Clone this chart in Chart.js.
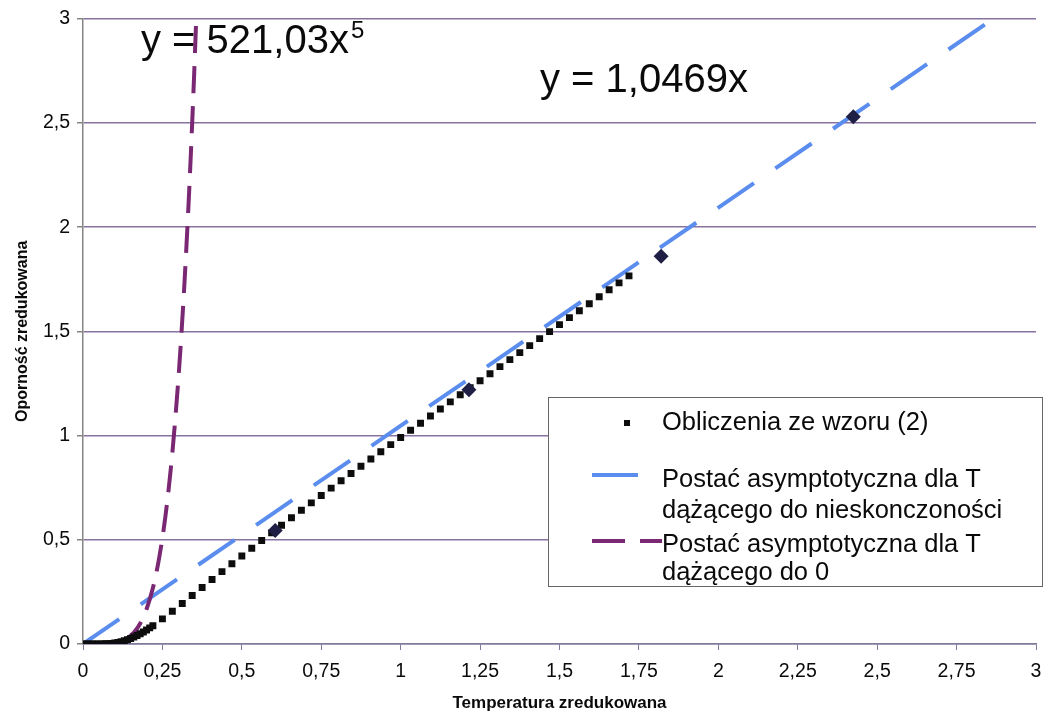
<!DOCTYPE html>
<html>
<head>
<meta charset="utf-8">
<script src="https://cdn.jsdelivr.net/npm/chart.js@4.4.0/dist/chart.umd.min.js"></script>
<style>
  html, body { margin: 0; padding: 0; background: #fff; }
  #wrap { width: 1053px; height: 715px; }
</style>
</head>
<body>
<div id="wrap"><canvas id="chart" width="1053" height="715"></canvas></div>
<script>
// Obliczenia ze wzoru (2) - punkty
const calcX = [0, 0.01, 0.02, 0.03, 0.04, 0.05, 0.06, 0.07, 0.08, 0.09, 0.10, 0.11,
  0.12, 0.13, 0.14, 0.15, 0.16, 0.17, 0.18, 0.19, 0.20, 0.21, 0.22,
  0.25, 0.28125, 0.3125, 0.34375, 0.375, 0.40625, 0.4375, 0.46875, 0.5, 0.53125,
  0.5625, 0.59375, 0.625, 0.65625, 0.6875, 0.71875, 0.75, 0.78125, 0.8125, 0.84375,
  0.875, 0.90625, 0.9375, 0.96875, 1.0, 1.03125, 1.0625, 1.09375, 1.125, 1.15625,
  1.1875, 1.21875, 1.25, 1.28125, 1.3125, 1.34375, 1.375, 1.40625, 1.4375, 1.46875,
  1.5, 1.53125, 1.5625, 1.59375, 1.625, 1.65625, 1.6875, 1.71875];
const calcY = [0, 0, 0, 0.00001, 0.00005, 0.00016, 0.0004, 0.0009, 0.0017, 0.003, 0.0049, 0.0075,
  0.0109, 0.0152, 0.0204, 0.0264, 0.0332, 0.0408, 0.049, 0.0579, 0.0674, 0.0773, 0.0877,
  0.1206, 0.157, 0.1947, 0.2328, 0.2711, 0.3094, 0.3474, 0.3851, 0.4226, 0.4597,
  0.4966, 0.5332, 0.5695, 0.6056, 0.6414, 0.6771, 0.7125, 0.7478, 0.7829, 0.8179,
  0.8527, 0.8874, 0.922, 0.9565, 0.9909, 1.0251, 1.0594, 1.0935, 1.1276, 1.1616,
  1.1955, 1.2294, 1.2632, 1.297, 1.3307, 1.3644, 1.398, 1.4316, 1.4652, 1.4987,
  1.5322, 1.5657, 1.5991, 1.6326, 1.6659, 1.6993, 1.7326, 1.766];

// wieksze znaczniki (romby)
const markX = [0.605, 1.215, 1.82, 2.425];
const markY = [0.545, 1.22, 1.86, 2.53];

// Postac asymptotyczna dla T -> nieskonczonosc: y = 1,0469x
const highX = [0, 3];
const highY = [0, 3.1407];

// Postac asymptotyczna dla T -> 0: y = 521,03x^5
const lowX = [0, 0.04, 0.08, 0.1, 0.12, 0.14, 0.16, 0.18, 0.2, 0.22, 0.24, 0.26, 0.28,
  0.3, 0.31, 0.32, 0.33, 0.34, 0.35, 0.36];
const lowY = [0, 0.00005, 0.0017, 0.0052, 0.013, 0.028, 0.0546, 0.0985, 0.1667, 0.2685,
  0.4149, 0.619, 0.8967, 1.2661, 1.4917, 1.7483, 2.039, 2.3673, 2.7366, 3.1505];

const xTickLabels = ['0', '0,25', '0,5', '0,75', '1', '1,25', '1,5', '1,75', '2', '2,25', '2,5', '2,75', '3'];
const yTickLabels = ['0', '0,5', '1', '1,5', '2', '2,5', '3'];

const legendLabels = [
  ['Obliczenia ze wzoru (2)'],
  ['Postać asymptotyczna dla T', 'dążącego do nieskonczoności'],
  ['Postać asymptotyczna dla T', 'dążącego do 0']
];

const FONT = '"Liberation Sans", Arial, sans-serif';
const gridColor = '#86739f';
const axisColor = '#7f7a98';

function pts(xs, ys) {
  return xs.map((x, i) => ({ x: x, y: ys[i] }));
}

// rownania na wykresie + legenda w ramce
const annotations = {
  id: 'annotations',
  afterDraw(chart) {
    const ctx = chart.ctx;
    ctx.save();
    ctx.fillStyle = '#0a0a0a';
    ctx.textBaseline = 'alphabetic';
    ctx.textAlign = 'left';

    ctx.font = '40px ' + FONT;
    ctx.fillText('y = 521,03x', 141, 53);
    const w = ctx.measureText('y = 521,03x').width;
    ctx.font = '24px ' + FONT;
    ctx.fillText('5', 141 + w + 2, 38);

    ctx.font = '40px ' + FONT;
    ctx.fillText('y = 1,0469x', 540, 92);

    // legenda
    ctx.fillStyle = '#fff';
    ctx.fillRect(548, 397, 494, 189);
    ctx.strokeStyle = '#666';
    ctx.lineWidth = 1;
    ctx.strokeRect(548.5, 397.5, 494, 189);

    const ds = chart.data.datasets;
    ctx.fillStyle = ds[1].pointBackgroundColor;
    ctx.fillRect(624, 420, 6, 6);

    ctx.lineCap = 'butt';
    ctx.lineWidth = 4;
    ctx.strokeStyle = ds[3].borderColor;
    ctx.setLineDash([]);
    ctx.beginPath();
    ctx.moveTo(592, 475);
    ctx.lineTo(638, 475);
    ctx.stroke();

    ctx.strokeStyle = ds[2].borderColor;
    ctx.setLineDash([33, 15]);
    ctx.beginPath();
    ctx.moveTo(592, 541);
    ctx.lineTo(662, 541);
    ctx.stroke();
    ctx.setLineDash([]);

    ctx.fillStyle = '#0a0a0a';
    ctx.font = '25.5px ' + FONT;
    const baselines = [[430], [487, 518], [552, 580]];
    legendLabels.forEach((lines, i) => {
      lines.forEach((t, j) => ctx.fillText(t, 662, baselines[i][j]));
    });
    ctx.restore();
  }
};

const ctx = document.getElementById('chart').getContext('2d');
new Chart(ctx, {
  type: 'scatter',
  data: {
    datasets: [
      {
        label: 'romby',
        data: pts(markX, markY),
        pointStyle: 'rectRot',
        pointRadius: 7.5,
        pointBackgroundColor: '#1f1f45',
        pointBorderWidth: 0
      },
      {
        label: legendLabels[0].join(' '),
        data: pts(calcX, calcY),
        pointStyle: 'rect',
        pointRadius: 4.9,
        pointBackgroundColor: '#0d0d0d',
        pointBorderWidth: 0
      },
      {
        label: legendLabels[2].join(' '),
        data: pts(lowX, lowY),
        showLine: true,
        pointRadius: 0,
        borderColor: '#7a2873',
        borderWidth: 4,
        borderDash: [27, 13],
        cubicInterpolationMode: 'monotone',
        fill: false
      },
      {
        label: legendLabels[1].join(' '),
        data: pts(highX, highY),
        showLine: true,
        pointRadius: 0,
        borderColor: '#5b8def',
        borderWidth: 4,
        borderDash: [44, 26],
        fill: false
      }
    ]
  },
  options: {
    responsive: false,
    animation: false,
    events: [],
    layout: { padding: { top: 17, right: 17, left: 0, bottom: 0 } },
    plugins: {
      legend: { display: false },
      tooltip: { enabled: false }
    },
    scales: {
      x: {
        type: 'linear',
        min: 0,
        max: 3,
        afterFit: (scale) => { scale.height = 71; },
        border: { color: axisColor, width: 1.5 },
        grid: { drawOnChartArea: false, drawTicks: true, tickLength: 6, tickColor: axisColor },
        ticks: {
          stepSize: 0.25,
          padding: 10,
          maxRotation: 0,
          autoSkip: false,
          color: '#0a0a0a',
          font: { family: FONT, size: 19.5 },
          callback: (v, i) => xTickLabels[i]
        },
        title: {
          display: true,
          text: 'Temperatura zredukowana',
          color: '#0a0a0a',
          font: { family: FONT, size: 17, weight: 'bold' },
          padding: { top: 0, bottom: 1 }
        }
      },
      y: {
        type: 'linear',
        min: 0,
        max: 3,
        afterFit: (scale) => { scale.width = 83; },
        border: { color: '#858585', width: 1.5 },
        grid: { color: gridColor, lineWidth: 1.5, tickLength: 6, tickColor: '#858585' },
        ticks: {
          stepSize: 0.5,
          padding: 7,
          color: '#0a0a0a',
          font: { family: FONT, size: 19.5 },
          callback: (v, i) => yTickLabels[i]
        },
        title: {
          display: true,
          text: 'Oporność zredukowana',
          color: '#0a0a0a',
          font: { family: FONT, size: 16, weight: 'bold' },
          padding: { top: 13, bottom: 0 }
        }
      }
    }
  },
  plugins: [annotations]
});
</script>
</body>
</html>
